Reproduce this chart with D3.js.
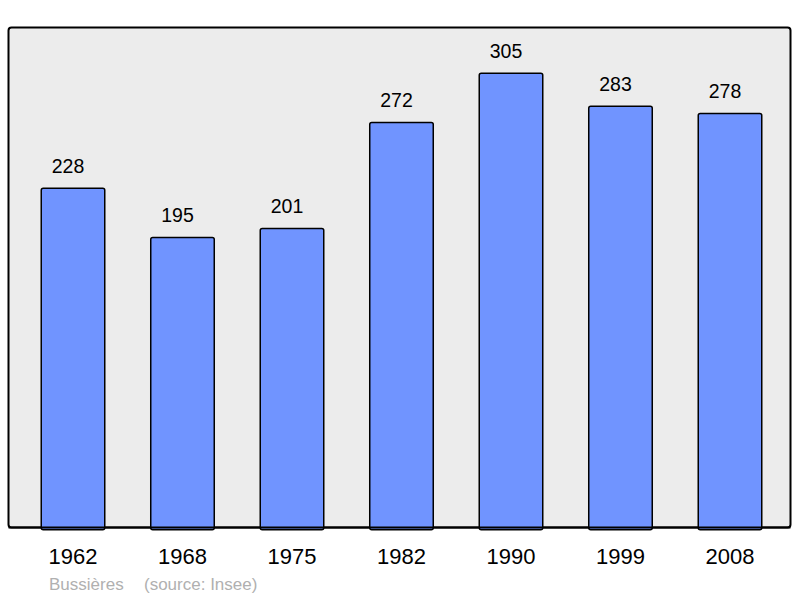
<!DOCTYPE html>
<html><head><meta charset="utf-8">
<script src="https://cdn.jsdelivr.net/npm/d3@7"></script>
<style>body{margin:0;background:#fff}svg{display:block}</style>
</head><body>
<script>
const years = ["1962","1968","1975","1982","1990","1999","2008"];
const population = [228,195,201,272,305,283,278];
const placeName = "Bussières";
const sourceText = "(source: Insee)";

const W = 800, H = 598;
const svg = d3.select("body").append("svg").attr("width", W).attr("height", H);
const font = "'Liberation Sans', Arial, sans-serif";

const frame = {x0: 8.5, y0: 27.5, x1: 790.5, y1: 527.5};
svg.append("rect").attr("x", frame.x0).attr("y", frame.y0)
  .attr("width", frame.x1 - frame.x0).attr("height", frame.y1 - frame.y0)
  .attr("rx", 3).attr("fill", "#ececec").attr("stroke", "#000").attr("stroke-width", 2);

const x = d3.scaleBand().domain(years).range([18.25, 784.75]).paddingInner(0.42).paddingOuter(0.21);
const y = d3.scaleLinear().domain([0, 336]).range([528.8, 27]);

const data = years.map((yr, i) => ({yr, v: population[i]}));

svg.selectAll("rect.bar").data(data).enter().append("rect").attr("class", "bar")
  .attr("x", d => x(d.yr)).attr("y", d => y(d.v))
  .attr("width", x.bandwidth()).attr("height", d => y(0) - y(d.v) + 1)
  .attr("rx", 2).attr("fill", "#7094ff").attr("stroke", "#000").attr("stroke-width", 1.5);

// redraw bottom frame line over bars
svg.append("line").attr("x1", frame.x0).attr("x2", frame.x1).attr("y1", frame.y1).attr("y2", frame.y1)
  .attr("stroke", "#000").attr("stroke-width", 2);

svg.selectAll("text.val").data(data).enter().append("text").attr("class", "val")
  .attr("x", d => x(d.yr) + x.bandwidth() / 2 - 5).attr("y", d => y(d.v) - 15.5)
  .attr("text-anchor", "middle").attr("font-family", font).attr("font-size", 19.5)
  .attr("fill", "#000").text(d => d.v);

const xAxis = d3.axisBottom(x).tickSize(0).tickPadding(0);
const gx = svg.append("g").attr("transform", `translate(0,${frame.y1})`).call(xAxis);
gx.select(".domain").remove();
gx.selectAll("text").attr("font-family", font).attr("font-size", 22).attr("fill", "#000")
  .attr("dy", null).attr("y", 36.5);

svg.append("text").attr("x", 49).attr("y", 590).attr("font-family", font).attr("font-size", 17)
  .attr("fill", "#b0b0b0").text(placeName);
svg.append("text").attr("x", 144).attr("y", 590).attr("font-family", font).attr("font-size", 17)
  .attr("fill", "#b0b0b0").text(sourceText);
</script>
</body></html>
